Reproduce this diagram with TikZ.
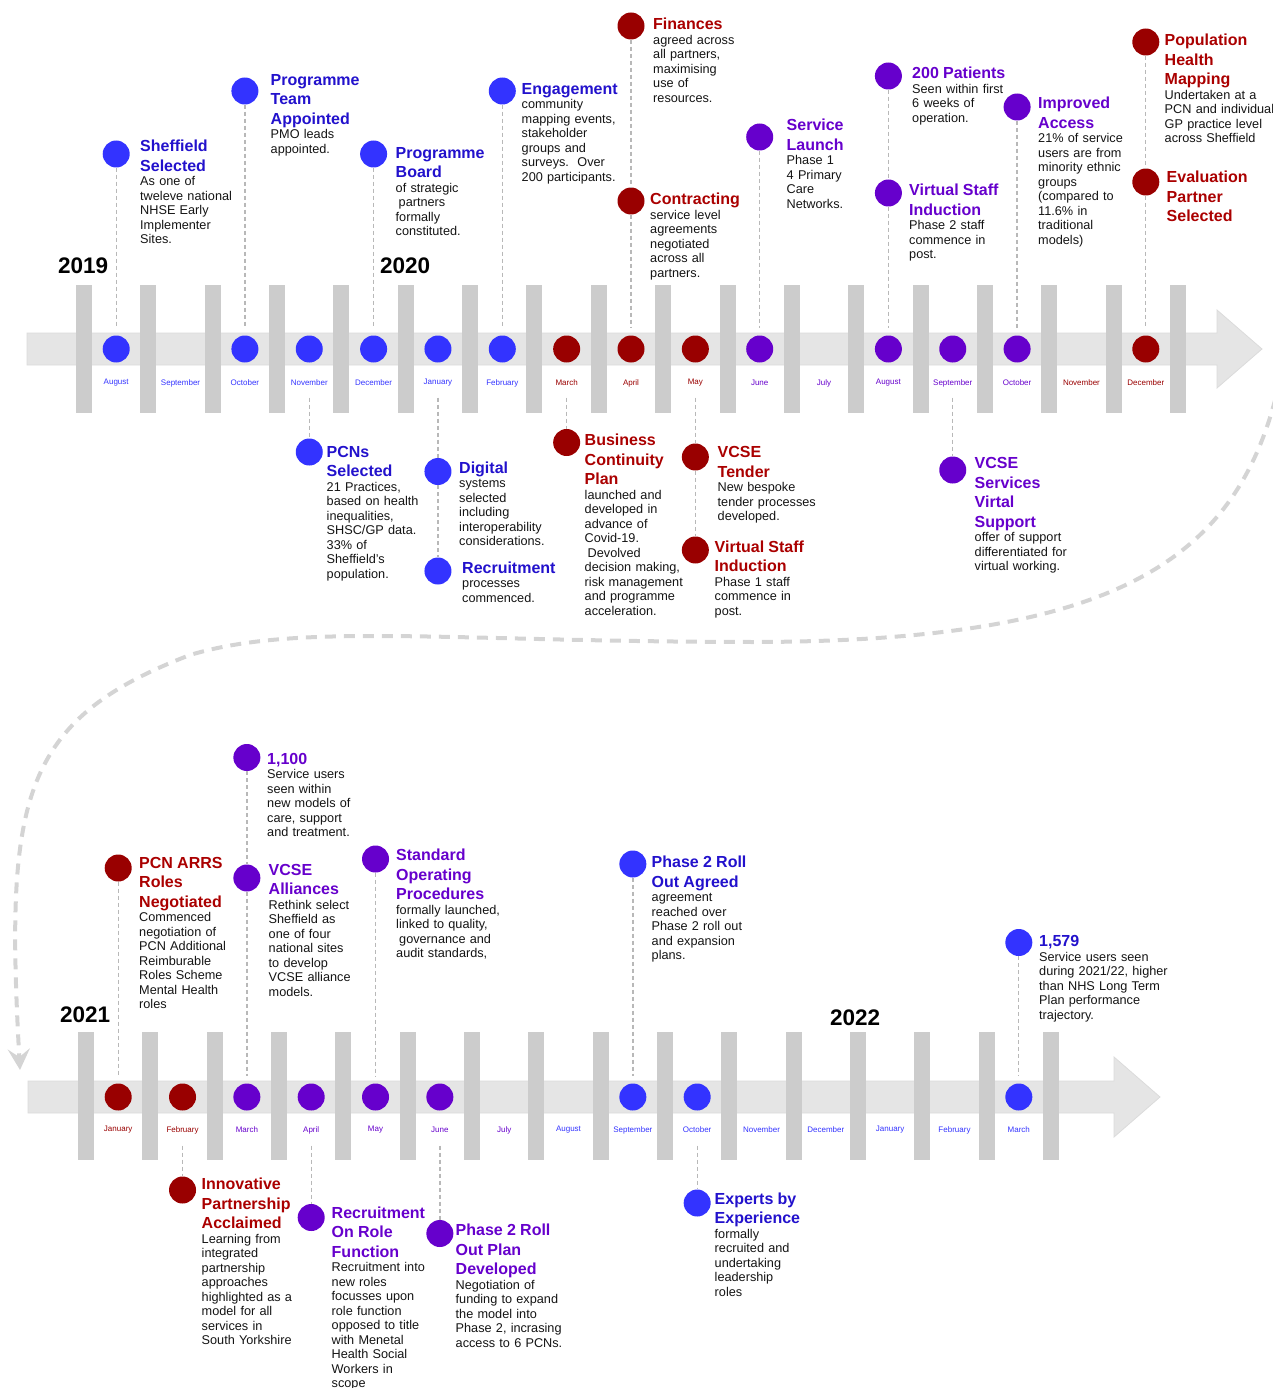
\documentclass[tikz,border=0pt]{standalone}
\usepackage{fontspec}
\setmainfont{Liberation Sans}
\usetikzlibrary{arrows.meta}

\definecolor{tlblue}{RGB}{51,51,255}
\definecolor{tlred}{RGB}{153,0,0}
\definecolor{tlpurple}{RGB}{102,0,204}
\definecolor{tlbluet}{RGB}{34,17,204}
\definecolor{tlredt}{RGB}{170,0,0}
\definecolor{tlpurplet}{RGB}{102,0,204}

\newcommand\titlefont{\fontsize{16}{19.4}\selectfont\bfseries}
\newcommand\bodyfont{\fontsize{12.7}{14.5}\selectfont}
\newcommand\monthfont{\fontsize{8}{9}\selectfont}
\newcommand\yearfont{\fontsize{22.5}{26}\selectfont\bfseries}
\newcommand\ttl[2]{\leavevmode{\titlefont\color{#1}#2\par}}
\setlength{\parindent}{0pt}

\begin{document}
\begin{tikzpicture}[x=1pt,y=-1pt,
  evdot/.style={circle,fill=#1,minimum size=27pt,inner sep=0pt},
  leader/.style={draw=black!28,line width=1.3pt,dash pattern=on 4pt off 3pt},
  event/.style={anchor=north west,inner sep=0pt,text width=170pt,align=left,font=\bodyfont,text=black!92},
  month/.style={font=\monthfont,text=#1,inner sep=0pt},
  yearlbl/.style={font=\yearfont,inner sep=0pt,anchor=base west},
  tickbar/.style={fill=black!20},
  band/.style={fill=black!10,draw=black!14,line width=0.8pt},
  wrap/.style={draw=black!17,line width=4pt,dash pattern=on 11pt off 8pt}
]
\def\mstep{64.35}
\useasboundingbox (0,0) rectangle (1273,1388);

% Wrap-around connector between the two rows
\coordinate (wrapstart) at (1280,380);
\coordinate (wrapend) at (20,1070);
\draw[wrap,-{Stealth[length=21pt,width=22pt,inset=8pt]}] (wrapstart)
  .. controls (1240,560) and (1120,640) .. (760,642)
  .. controls (450,642) and (300,622) .. (190,655)
  .. controls (20,720) and (5,800) .. (wrapend);

% Row 1: Aug 2019 - Dec 2020
\fill[band] (27,333) -- (1217,333) -- (1217,310) -- (1262,349) -- (1217,388) -- (1217,365) -- (27,365) -- cycle;
\foreach \i in {0,...,17}
  \fill[tickbar] ({76+\mstep*\i},285) rectangle ++(16,128);
\foreach \m/\c/\f [count=\i from 0] in {August/tlblue/1,September/tlblue/0,October/tlblue/1,November/tlblue/1,December/tlblue/1,January/tlblue/1,February/tlblue/1,March/tlred/1,April/tlred/1,May/tlred/1,June/tlpurple/1,July/tlpurple/0,August/tlpurple/1,September/tlpurple/1,October/tlpurple/1,November/tlred/0,December/tlred/1}{
  \node[month=\c] (al\i) at ({116.2+\mstep*\i},383) {\m};
  \ifnum\f=1 \node[evdot=\c] (a\i) at ({116.2+\mstep*\i},349) {}; \fi
}
\node[yearlbl] (y2019) at (58,273) {2019};
\node[yearlbl] (y2020) at (380,273) {2020};

% Row 2: Jan 2021 - Mar 2022
\fill[band] (28,1081) -- (1114,1081) -- (1114,1057) -- (1160,1097) -- (1114,1137) -- (1114,1113) -- (28,1113) -- cycle;
\foreach \i in {0,...,15}
  \fill[tickbar] ({78+64.33*\i},1032) rectangle ++(16,128);
\foreach \m/\c/\f [count=\i from 0] in {January/tlred/1,February/tlred/1,March/tlpurple/1,April/tlpurple/1,May/tlpurple/1,June/tlpurple/1,July/tlpurple/0,August/tlblue/0,September/tlblue/1,October/tlblue/1,November/tlblue/0,December/tlblue/0,January/tlblue/0,February/tlblue/0,March/tlblue/1}{
  \node[month=\c] (bl\i) at ({118.2+64.33*\i},1130) {\m};
  \ifnum\f=1 \node[evdot=\c] (b\i) at ({118.2+64.33*\i},1097) {}; \fi
}
\node[yearlbl] (y2021) at (60,1022) {2021};
\node[yearlbl] (y2022) at (830,1025) {2022};

% Row 1 events above
\node[evdot=tlblue] (sheff) at (a0 |- 0,154) {};
\node[event] (sheff-t) at (140,140) {\ttl{tlbluet}{Sheffield\\Selected}As one of\\tweleve national\\NHSE Early\\Implementer\\Sites.};
\node[evdot=tlblue] (pteam) at (a2 |- 0,91) {};
\node[event] (pteam-t) at (270.5,74) {\ttl{tlbluet}{Programme\\Team\\Appointed}PMO leads\\appointed.};
\node[evdot=tlblue] (pboard) at (a4 |- 0,154) {};
\node[event] (pboard-t) at (395.5,147) {\ttl{tlbluet}{Programme\\Board}of strategic\\\hspace{3pt}partners\\formally\\constituted.};
\node[evdot=tlblue] (engage) at (a6 |- 0,91) {};
\node[event] (engage-t) at (521.5,83) {\ttl{tlbluet}{Engagement}community\\mapping events,\\stakeholder\\groups and\\surveys.\ \ Over\\200 participants.};
\node[evdot=tlred] (finance) at (a8 |- 0,26) {};
\node[event] (finance-t) at (653,18) {\ttl{tlredt}{Finances}agreed across\\all partners,\\maximising\\use of\\resources.};
\node[evdot=tlred] (contract) at (a8 |- 0,201) {};
\node[event] (contract-t) at (650,193) {\ttl{tlredt}{Contracting}service level\\agreements\\negotiated\\across all\\partners.};
\node[evdot=tlpurple] (launch) at (a10 |- 0,137) {};
\node[event] (launch-t) at (786.5,119) {\ttl{tlpurplet}{Service\\Launch}Phase 1\\4 Primary\\Care\\Networks.};
\node[evdot=tlpurple] (patients) at (a12 |- 0,76) {};
\node[event] (patients-t) at (912,67) {\ttl{tlpurplet}{200 Patients}Seen within first\\6 weeks of\\operation.};
\node[evdot=tlpurple] (vsitwo) at (a12 |- 0,193) {};
\node[event] (vsitwo-t) at (909,184) {\ttl{tlpurplet}{Virtual Staff\\Induction}Phase 2 staff\\commence in\\post.};
\node[evdot=tlpurple] (access) at (a14 |- 0,107) {};
\node[event] (access-t) at (1038,97) {\ttl{tlpurplet}{Improved\\Access}21\% of service\\users are from\\minority ethnic\\groups\\(compared to\\11.6\% in\\traditional\\models)};
\node[evdot=tlred] (pophealth) at (a16 |- 0,42) {};
\node[event] (pophealth-t) at (1164.5,34) {\ttl{tlredt}{Population\\Health\\Mapping}Undertaken at a\\PCN and individual\\GP practice level\\across Sheffield};
\node[evdot=tlred] (evalpart) at (a16 |- 0,182) {};
\node[event] (evalpart-t) at (1166.5,171) {\ttl{tlredt}{Evaluation\\Partner\\Selected}};

% Row 1 events below
\node[evdot=tlblue] (pcns) at (a3 |- 0,452) {};
\node[event] (pcns-t) at (326.5,446) {\ttl{tlbluet}{PCNs\\Selected}21 Practices,\\based on health\\inequalities,\\SHSC/GP data.\\33\% of\\Sheffield’s\\population.};
\node[evdot=tlblue] (digital) at (a5 |- 0,471.5) {};
\node[event] (digital-t) at (459,461.5) {\ttl{tlbluet}{Digital}systems\\selected\\including\\interoperability\\considerations.};
\node[evdot=tlblue] (recruit) at (a5 |- 0,571) {};
\node[event] (recruit-t) at (462,561.5) {\ttl{tlbluet}{Recruitment}processes\\commenced.};
\node[evdot=tlred] (bcplan) at (a7 |- 0,442.5) {};
\node[event] (bcplan-t) at (584.5,434) {\ttl{tlredt}{Business\\Continuity\\Plan}launched and\\developed in\\advance of\\Covid-19.\\\hspace{3pt}Devolved\\decision making,\\risk management\\and programme\\acceleration.};
\node[evdot=tlred] (tender) at (a9 |- 0,457) {};
\node[event] (tender-t) at (717.5,446.5) {\ttl{tlredt}{VCSE\\Tender}New bespoke\\tender processes\\developed.};
\node[evdot=tlred] (vsione) at (a9 |- 0,550) {};
\node[event] (vsione-t) at (714.5,540.5) {\ttl{tlredt}{Virtual Staff\\Induction}Phase 1 staff\\commence in\\post.};
\node[evdot=tlpurple] (vcsesup) at (a13 |- 0,470) {};
\node[event] (vcsesup-t) at (974.5,457.5) {\ttl{tlpurplet}{VCSE\\Services\\Virtal\\Support}offer of support\\differentiated for\\virtual working.};

% Row 2 events above
\node[evdot=tlred] (arrs) at (b0 |- 0,868) {};
\node[event] (arrs-t) at (139,857) {\ttl{tlredt}{PCN ARRS\\Roles\\Negotiated}Commenced\\negotiation of\\PCN Additional\\Reimburable\\Roles Scheme\\Mental Health\\roles};
\node[evdot=tlpurple] (users) at (b2 |- 0,757.5) {};
\node[event] (users-t) at (267,753) {\ttl{tlpurplet}{1,100}Service users\\seen within\\new models of\\care, support\\and treatment.};
\node[evdot=tlpurple] (alliance) at (b2 |- 0,878) {};
\node[event] (alliance-t) at (268.5,864) {\ttl{tlpurplet}{VCSE\\Alliances}Rethink select\\Sheffield as\\one of four\\national sites\\to develop\\VCSE alliance\\models.};
\node[evdot=tlpurple] (sops) at (b4 |- 0,859) {};
\node[event] (sops-t) at (396,849) {\ttl{tlpurplet}{Standard\\Operating\\Procedures}formally launched,\\linked to quality,\\\hspace{3pt}governance and\\audit standards,};
\node[evdot=tlblue] (rollagreed) at (b8 |- 0,864) {};
\node[event] (rollagreed-t) at (651.5,856) {\ttl{tlbluet}{Phase 2 Roll\\Out Agreed}agreement\\reached over\\Phase 2 roll out\\and expansion\\plans.};
\node[evdot=tlblue] (usersb) at (b14 |- 0,942.5) {};
\node[event] (usersb-t) at (1039,935.5) {\ttl{tlbluet}{1,579}Service users seen\\during 2021/22, higher\\than NHS Long Term\\Plan performance\\trajectory.};

% Row 2 events below
\node[evdot=tlred] (innov) at (b1 |- 0,1190) {};
\node[event] (innov-t) at (201.5,1178) {\ttl{tlredt}{Innovative\\Partnership\\Acclaimed}Learning from\\integrated\\partnership\\approaches\\highlighted as a\\model for all\\services in\\South Yorkshire};
\node[evdot=tlpurple] (roles) at (b3 |- 0,1217.5) {};
\node[event] (roles-t) at (331.5,1206.5) {\ttl{tlpurplet}{Recruitment\\On Role\\Function}Recruitment into\\new roles\\focusses upon\\role function\\opposed to title\\with Menetal\\Health Social\\Workers in\\scope};
\node[evdot=tlpurple] (rollplan) at (b5 |- 0,1233.5) {};
\node[event] (rollplan-t) at (455.5,1224) {\ttl{tlpurplet}{Phase 2 Roll\\Out Plan\\Developed}Negotiation of\\funding to expand\\the model into\\Phase 2, incrasing\\access to 6 PCNs.};
\node[evdot=tlblue] (experts) at (b9 |- 0,1203) {};
\node[event] (experts-t) at (714.5,1192.5) {\ttl{tlbluet}{Experts by\\Experience}formally\\recruited and\\undertaking\\leadership\\roles};

% Leaders
\foreach \e/\m in {sheff/a0,pteam/a2,pboard/a4,engage/a6,contract/a8,launch/a10,vsitwo/a12,access/a14,evalpart/a16,arrs/b0,alliance/b2,sops/b4,rollagreed/b8,usersb/b14}
  \draw[leader,shorten >=7pt] (\e) -- (\m);
\foreach \e/\f in {finance/contract,patients/vsitwo,pophealth/evalpart,digital/recruit,tender/vsione,users/alliance}
  \draw[leader] (\e) -- (\f);
\foreach \m/\e in {a3/pcns,a5/digital,a7/bcplan,a9/tender,a13/vcsesup,b1/innov,b3/roles,b5/rollplan,b9/experts}
  \draw[leader,shorten <=35pt] (\m) -- (\e);
\end{tikzpicture}
\end{document}
